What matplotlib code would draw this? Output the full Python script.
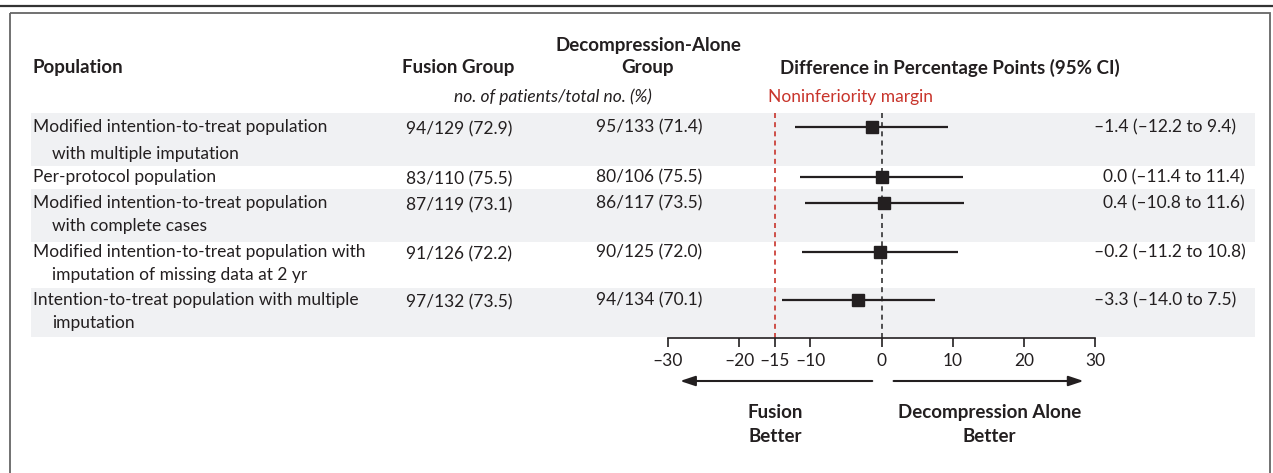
import matplotlib.pyplot as plt
from matplotlib.patches import Rectangle

plt.rcParams['font.family'] = ['Lato', 'DejaVu Sans']

# data
populations = [
    ['Modified intention-to-treat population', 'with multiple imputation'],
    ['Per-protocol population'],
    ['Modified intention-to-treat population', 'with complete cases'],
    ['Modified intention-to-treat population with', 'imputation of missing data at 2 yr'],
    ['Intention-to-treat population with multiple', 'imputation'],
]
fusion = ['94/129 (72.9)', '83/110 (75.5)', '87/119 (73.1)', '91/126 (72.2)', '97/132 (73.5)']
decomp = ['95/133 (71.4)', '80/106 (75.5)', '86/117 (73.5)', '90/125 (72.0)', '94/134 (70.1)']
diff = [-1.4, 0.0, 0.4, -0.2, -3.3]
ci_low = [-12.2, -11.4, -10.8, -11.2, -14.0]
ci_high = [9.4, 11.4, 11.6, 10.8, 7.5]
ticks = [-30, -20, -15, -10, 0, 10, 20, 30]
tick_labels = ['\u201330', '\u201320', '\u201315', '\u201310', '0', '10', '20', '30']
margin = -15

# layout (pixel rows, top-down)
row_y = [127, 177, 203, 252, 300]
band_top = [113, 166, 189, 242, 288]
band_bot = [166, 189, 242, 288, 337]
shaded = [True, False, True, False, True]
W, H = 1273, 473
ink = '#231f20'
red = '#c8342b'
gray = '#f0f1f3'
fs = 12.5
hfs = 13.5

fig = plt.figure(figsize=(W / 100, H / 100), dpi=100)
bg = fig.add_axes([0, 0, 1, 1])
bg.set_xlim(0, W)
bg.set_ylim(H, 0)
bg.axis('off')

# frame
bg.plot([0, W], [6, 6], color='#333333', lw=1.6, solid_capstyle='butt')
bg.add_patch(Rectangle((10, 13), 1260, 480, fill=False, edgecolor='#666666', lw=1.3))

for top, bot, s in zip(band_top, band_bot, shaded):
    if s:
        bg.add_patch(Rectangle((31, top), 1224, bot - top, facecolor=gray, edgecolor='none'))

# headers
bg.text(33, 68, 'Population', fontsize=hfs, fontweight='bold', color=ink, va='center')
bg.text(402, 68, 'Fusion Group', fontsize=hfs, fontweight='bold', color=ink, va='center')
bg.text(648, 45, 'Decompression-Alone', fontsize=hfs, fontweight='bold', color=ink,
        va='center', ha='center')
bg.text(648, 68, 'Group', fontsize=hfs, fontweight='bold', color=ink,
        va='center', ha='center')
bg.text(950, 68, 'Difference in Percentage Points (95% CI)', fontsize=hfs, fontweight='bold',
        color=ink, va='center', ha='center')
bg.text(553, 97, 'no. of patients/total no. (%)', fontsize=fs, style='italic', color=ink,
        va='center', ha='center')
bg.text(768, 97, 'Noninferiority margin', fontsize=fs, color=red, va='center')

# table rows
for i in range(len(populations)):
    y = row_y[i]
    gap = 27 if i == 0 else 23
    for j, line in enumerate(populations[i]):
        bg.text(33 if j == 0 else 52, y + j * gap, line, fontsize=fs, color=ink, va='center')
    bg.text(406, y + 2, fusion[i], fontsize=fs, color=ink, va='center')
    bg.text(596, y, decomp[i], fontsize=fs, color=ink, va='center')
    label = '%.1f (%.1f to %.1f)' % (diff[i], ci_low[i], ci_high[i])
    label = label.replace('-', '\u2013')
    bg.text(1094 if label.startswith('\u2013') else 1103, y, label, fontsize=fs,
            color=ink, va='center')

# forest panel
x0, x1 = 668, 1095
ax = fig.add_axes([x0 / W, 0, (x1 - x0) / W, 1])
ax.set_xlim(-30, 30)
ax.set_ylim(H, 0)
ax.patch.set_visible(False)
for side in ['top', 'left', 'right']:
    ax.spines[side].set_visible(False)
ax.spines['bottom'].set_position(('data', 338))
ax.spines['bottom'].set_bounds(-30, 30)
ax.spines['bottom'].set_color(ink)
ax.spines['bottom'].set_linewidth(1.2)
ax.set_yticks([])
ax.set_xticks(ticks)
ax.set_xticklabels(tick_labels)
ax.tick_params(axis='x', direction='out', length=6.5, width=1.2, color=ink,
               labelsize=fs, labelcolor=ink, pad=4)

ax.vlines(0, 113, 338, colors='#333333', linestyles=(0, (3, 2.5)), lw=1.2)
ax.vlines(margin, 113, 338, colors=red, linestyles=(0, (3, 2.5)), lw=1.2)

for i in range(len(diff)):
    ax.hlines(row_y[i], ci_low[i], ci_high[i], colors=ink, lw=1.6)
    ax.plot(diff[i], row_y[i], marker='s', ms=8.8, color=ink, mec=ink)

ap = dict(arrowstyle='-|>,head_length=0.9,head_width=0.3', lw=1.5, color=ink,
          mutation_scale=10, shrinkA=0, shrinkB=0)
ax.annotate('', xy=(-28.3, 381), xytext=(-1.3, 381), arrowprops=ap)
ax.annotate('', xy=(28.4, 381), xytext=(1.7, 381), arrowprops=ap)
for j, line in enumerate(['Fusion', 'Better']):
    ax.text(-15, 412 + j * 24, line, fontsize=hfs, fontweight='bold', color=ink,
            ha='center', va='center')
for j, line in enumerate(['Decompression Alone', 'Better']):
    ax.text(15.2, 412 + j * 24, line, fontsize=hfs, fontweight='bold', color=ink,
            ha='center', va='center')

fig.savefig('out.png', dpi=100)
